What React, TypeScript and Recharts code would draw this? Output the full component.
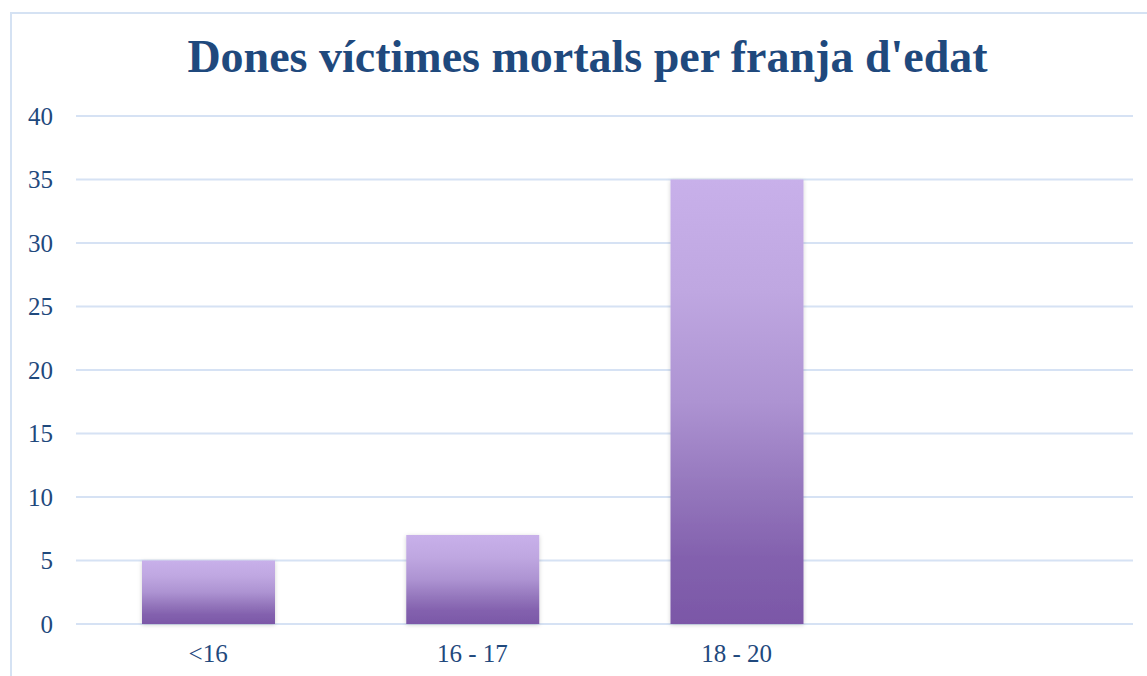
import { BarChart, Bar, XAxis, YAxis, CartesianGrid } from 'recharts'

const categories = ['<16', '16 - 17', '18 - 20', '']
const victims = [5, 7, 35, null]
const yTicks = [0, 5, 10, 15, 20, 25, 30, 35, 40]

const data = categories.map((name, i) => ({ name, value: victims[i] }))

const navy = '#1F497D'
const tickFont = { fontFamily: 'Liberation Serif', fontSize: 25, fill: navy }

export default function App() {
  return (
    <div style={{ position: 'absolute', left: 0, top: 0, width: 1147, height: 676, overflow: 'hidden', background: '#fff' }}>
      <div
        style={{
          position: 'absolute',
          left: 10,
          top: 12,
          width: 1200,
          height: 700,
          border: '2px solid #D5E2F3',
          boxSizing: 'border-box',
        }}
      />
      <div
        style={{
          position: 'absolute',
          left: 0,
          top: 31,
          width: 1175,
          textAlign: 'center',
          fontFamily: 'Liberation Serif',
          fontWeight: 'bold',
          fontSize: 46,
          color: navy,
          lineHeight: '52px',
        }}
      >
        Dones víctimes mortals per franja d'edat
      </div>
      <BarChart
        width={1147}
        height={676}
        data={data}
        margin={{ top: 116, right: 14, bottom: 12, left: 0 }}
        barSize={133}
      >
        <defs>
          <linearGradient id="barFill" x1="0" y1="0" x2="0" y2="1">
            <stop offset="0%" stopColor="#C8B0EA" />
            <stop offset="25%" stopColor="#BFA7E1" />
            <stop offset="50%" stopColor="#AD93D2" />
            <stop offset="70%" stopColor="#9476BC" />
            <stop offset="85%" stopColor="#8361AE" />
            <stop offset="100%" stopColor="#7B57A7" />
          </linearGradient>
          <filter id="barShadow" x="-10%" y="-10%" width="120%" height="120%">
            <feDropShadow dx="0" dy="1" stdDeviation="2" floodColor="#000" floodOpacity="0.18" />
          </filter>
        </defs>
        <CartesianGrid vertical={false} stroke="#D6E2F4" strokeWidth={2} />
        <XAxis
          dataKey="name"
          axisLine={false}
          tickLine={false}
          tickSize={0}
          tickMargin={20}
          height={40}
          tick={tickFont}
        />
        <YAxis
          domain={[0, 40]}
          ticks={yTicks}
          axisLine={false}
          tickLine={false}
          tickSize={0}
          tickMargin={23}
          width={76}
          tick={tickFont}
        />
        <Bar dataKey="value" fill="url(#barFill)" filter="url(#barShadow)" isAnimationActive={false} />
      </BarChart>
    </div>
  )
}
